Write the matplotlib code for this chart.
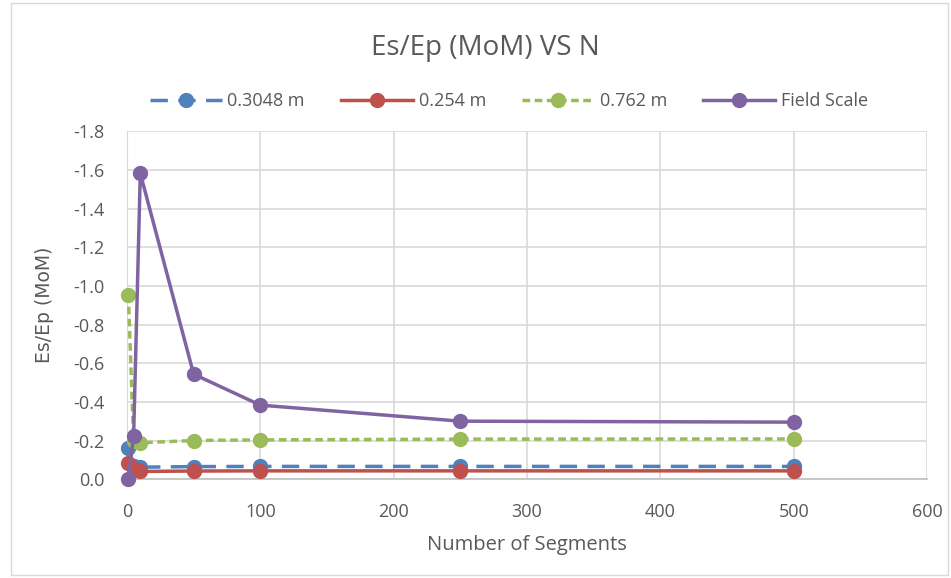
import matplotlib.pyplot as plt
from matplotlib.patches import Rectangle

# segment counts and Es/Ep results for each spacing
n_seg = [1, 5, 10, 50, 100, 250, 500]
es_03048 = [-0.16, -0.07, -0.062, -0.065, -0.066, -0.066, -0.066]
es_0254 = [-0.082, -0.05, -0.04, -0.042, -0.043, -0.043, -0.043]
es_0762 = [-0.955, -0.2, -0.188, -0.2, -0.203, -0.207, -0.208]
es_field = [0.0, -0.225, -1.582, -0.543, -0.383, -0.30, -0.295]

xticks = [0, 100, 200, 300, 400, 500, 600]
yticks = [0.0, -0.2, -0.4, -0.6, -0.8, -1.0, -1.2, -1.4, -1.6, -1.8]

txt = '#595959'
plt.rcParams['font.family'] = ['Open Sans', 'DejaVu Sans']

fig = plt.figure(figsize=(9.51, 5.78), dpi=100)
fig.patches.append(Rectangle((0.012, 0.005), 0.985, 0.99, transform=fig.transFigure,
                             fill=False, edgecolor='#d9d9d9', lw=1))
ax = fig.add_axes([0.1335, 0.171, 0.8415, 0.602])

ms = 10
ax.plot(n_seg, es_03048, color='#4f81bd', lw=2.5, ls=(0, (5, 3)), marker='o', ms=ms,
        label='0.3048 m', zorder=3, clip_on=False)
ax.plot(n_seg, es_0254, color='#c0504d', lw=2.5, marker='o', ms=ms,
        label='0.254 m', zorder=4, clip_on=False)
ax.plot(n_seg, es_0762, color='#9bbb59', lw=2.5, ls=(0, (2.2, 1.3)), marker='o', ms=ms,
        label='0.762 m', zorder=5, clip_on=False)
ax.plot(n_seg, es_field, color='#8064a2', lw=2.5, marker='o', ms=ms,
        label='Field Scale', zorder=6, clip_on=False)

ax.set_xlim(0, 600)
ax.set_ylim(0, -1.8)
ax.set_xticks(xticks)
ax.set_yticks(yticks)
ax.set_yticklabels(['%.1f' % v for v in yticks])
ax.tick_params(length=0, labelsize=13, colors=txt)
ax.tick_params(axis='x', pad=17)
ax.tick_params(axis='y', pad=16)
ax.grid(True, color='#d9d9d9', lw=1.2)
ax.set_axisbelow(True)
for s in ['top', 'right']:
    ax.spines[s].set_visible(False)
ax.spines['left'].set_color('#d9d9d9')
ax.spines['bottom'].set_color('#bfbfbf')
ax.spines['bottom'].set_linewidth(1.2)

ax.set_xlabel('Number of Segments', fontsize=14.5, color=txt, labelpad=10)
ax.set_ylabel('Es/Ep (MoM)', fontsize=13.5, color=txt, family='DejaVu Sans', labelpad=14)

fig.text(0.51, 0.917, 'Es/Ep (MoM) VS N', ha='center', va='center', fontsize=20, color=txt)
fig.legend(loc='center', bbox_to_anchor=(0.535, 0.825), ncol=4, frameon=False,
           fontsize=13, labelcolor=txt, handlelength=4, columnspacing=2.0,
           handletextpad=0.3)

fig.savefig('out.png', dpi=100)
